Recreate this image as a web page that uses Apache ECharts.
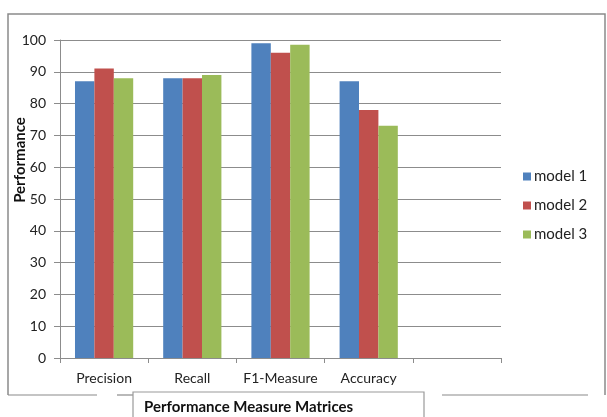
<!DOCTYPE html>
<html>
<head>
<meta charset="utf-8">
<script src="https://cdn.jsdelivr.net/npm/echarts@6/dist/echarts.min.js"></script>
<style>
  html, body { margin: 0; padding: 0; background: #fff; }
  #chart { width: 607px; height: 417px; }
</style>
</head>
<body>
<div id="chart"></div>
<script>
// data
const categories = ['Precision', 'Recall', 'F1-Measure', 'Accuracy', ''];
const seriesNames = ['model 1', 'model 2', 'model 3'];
const model1 = [87, 88, 99, 87, null];
const model2 = [91, 88, 96, 78, null];
const model3 = [88, 89, 98.5, 73, null];
const yTicks = { min: 0, max: 100, step: 10 };

const colors = ['#4F81BD', '#C0504D', '#9BBB59'];
const font = 'Lato, "Open Sans", sans-serif';
const gray = '#8c8c8c';

const chart = echarts.init(document.getElementById('chart'));

function bar(name, values) {
  return {
    name: name,
    type: 'bar',
    data: values,
    barGap: '0%',
    barCategoryGap: '34%'
  };
}

chart.setOption({
  animation: false,
  color: colors,
  textStyle: { fontFamily: font, color: '#222' },
  grid: { left: 60, right: 106, top: 40, bottom: 59 },
  legend: {
    orient: 'vertical',
    left: 518,
    top: 164,
    itemWidth: 8,
    itemHeight: 8,
    itemGap: 14,
    icon: 'rect',
    textStyle: { fontFamily: font, fontSize: 15, color: '#222', padding: [0, 0, 0, -2] },
    data: seriesNames
  },
  xAxis: {
    type: 'category',
    data: categories,
    axisLine: { lineStyle: { color: gray, width: 1 } },
    axisTick: { show: true, length: 5, lineStyle: { color: gray } },
    axisLabel: { fontSize: 14, color: '#222', margin: 13, interval: 0 }
  },
  yAxis: {
    type: 'value',
    min: yTicks.min,
    max: yTicks.max,
    interval: yTicks.step,
    axisLine: { show: true, lineStyle: { color: gray, width: 1 } },
    axisTick: { show: true, length: 6, lineStyle: { color: gray } },
    axisLabel: { fontSize: 14, color: '#222', margin: 14 },
    splitLine: { lineStyle: { color: gray, width: 1 } }
  },
  graphic: [
    // outer chart frame (bottom edge broken like the original)
    { type: 'polyline', silent: true, z: 0,
      shape: { points: [[8, 395], [8, 14], [605, 14], [605, 395]] },
      style: { stroke: '#8a8a8a', lineWidth: 1.5, fill: null } },
    { type: 'line', silent: true, shape: { x1: 8, y1: 395, x2: 97, y2: 395 }, style: { stroke: '#8a8a8a', lineWidth: 1.2 } },
    { type: 'line', silent: true, shape: { x1: 117, y1: 395, x2: 133, y2: 395 }, style: { stroke: '#8a8a8a', lineWidth: 1.2 } },
    { type: 'line', silent: true, shape: { x1: 442, y1: 395, x2: 588, y2: 395 }, style: { stroke: '#8a8a8a', lineWidth: 1.2 } },
    // y-axis title
    { type: 'text', silent: true, z: 11, x: 20, y: 160, rotation: Math.PI / 2,
      style: { text: 'Performance', font: 'bold 15px ' + font, fill: '#111',
               align: 'center', verticalAlign: 'middle' } },
    // x-axis title box
    { type: 'rect', silent: true, z: 10,
      shape: { x: 133, y: 392, width: 291, height: 40 },
      style: { fill: '#fff', stroke: '#9a9a9a', lineWidth: 1.2 } },
    { type: 'text', silent: true, z: 11, left: 144, top: 400,
      style: { text: 'Performance Measure Matrices', font: 'bold 15px ' + font, fill: '#111' } }
  ],
  series: [
    bar(seriesNames[0], model1),
    bar(seriesNames[1], model2),
    bar(seriesNames[2], model3)
  ]
});
</script>
</body>
</html>
